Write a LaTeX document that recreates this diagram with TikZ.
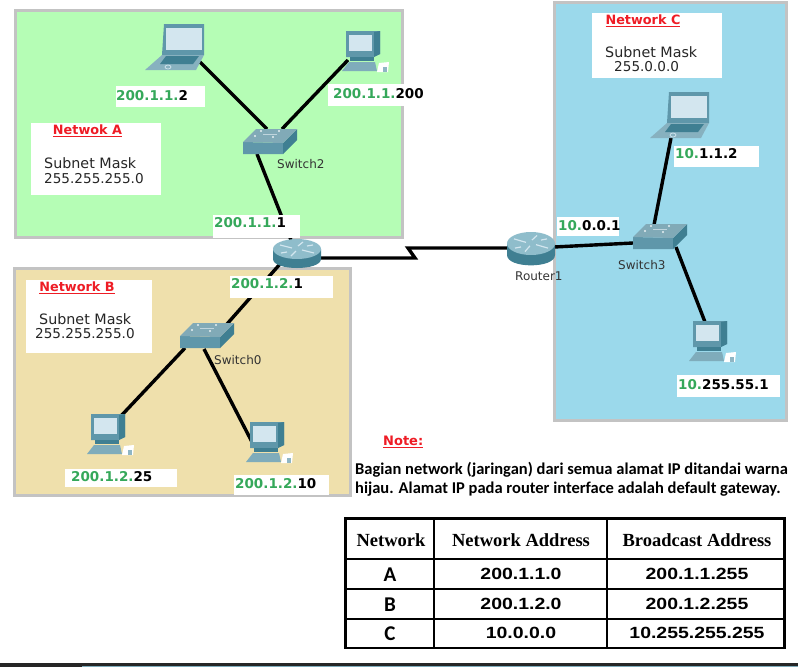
\documentclass[tikz,border=0pt]{standalone}
\usepackage{fontspec}
\setmainfont{DejaVu Sans}
\newfontfamily\notefont{Carlito}
\newfontfamily\headfont{Liberation Serif}
\newfontfamily\tblfont[FakeStretch=1.2]{Liberation Sans}
\definecolor{netA}{HTML}{B5FDB5}
\definecolor{netB}{HTML}{EFE0AC}
\definecolor{netC}{HTML}{9BD9EB}
\definecolor{frame}{HTML}{C3C3C3}
\definecolor{ipgreen}{HTML}{35A85A}
\definecolor{redhead}{HTML}{EE1C25}
\definecolor{icona}{HTML}{5F97AA}
\definecolor{iconb}{HTML}{3F7F92}
\definecolor{iconc}{HTML}{D3E6EF}
\definecolor{icond}{HTML}{8FBDCB}
\newcommand{\gr}[1]{\textcolor{ipgreen}{#1}}
\tikzset{
  zone/.style={line width=3pt,draw=frame},
  wire/.style={line width=3.4pt,black,line join=miter},
  ip/.style={anchor=west,inner sep=0pt,font=\fontsize{13.5}{15}\selectfont\bfseries},
  nettitle/.style={anchor=center,inner sep=0pt,text=redhead,font=\fontsize{12.8}{15}\selectfont\bfseries},
  mask/.style={anchor=west,inner sep=0pt,text=black!85,font=\fontsize{13.6}{15}\selectfont},
  masktitle/.style={anchor=west,inner sep=0pt,text=black!85,font=\fontsize{14.3}{15}\selectfont},
  devlabel/.style={anchor=west,inner sep=0pt,text=black!80,font=\fontsize{12}{14}\selectfont},
  notetext/.style={anchor=west,inner sep=0pt,font=\fontsize{16.5}{18}\notefont\selectfont\bfseries},
  thead/.style={anchor=center,inner sep=0pt,font=\fontsize{18.5}{20}\headfont\selectfont\bfseries},
  tbody/.style={anchor=center,inner sep=0pt,font=\fontsize{16.2}{20}\tblfont\selectfont\bfseries},
  tkey/.style={anchor=center,inner sep=0pt,font=\fontsize{21}{22}\notefont\selectfont\bfseries},
  tblouter/.style={line width=2.4pt,black},
  tblinner/.style={line width=1.5pt,black},
  laptop/.pic={
    \fill[icona] (19,0) -- (59,0) -- (59,31) -- (17,31) -- cycle;
    \fill[iconc] (21,4) rectangle (57,26);
    \fill[icona!75] (17,31) -- (59,31) -- (51,46) -- (0,46) -- cycle;
    \fill[iconb] (21,32) -- (54,32) -- (48,40) -- (15,40) -- cycle;
    \draw[iconc,line width=.7pt] (23,43) ellipse [x radius=3,y radius=2];
  },
  desktop/.pic={
    \fill[icona] (4,0) -- (38,0) -- (38,23) -- (31,26) -- (4,26) -- cycle;
    \fill[iconb] (32,1) -- (38,0) -- (38,23) -- (32,26) -- cycle;
    \fill[iconc] (7,4) rectangle (30,20);
    \fill[iconb] (8,26) rectangle (32,30);
    \fill[icona!80] (7,31) -- (33,31) -- (35,40) -- (0,40) -- cycle;
    \fill[white] (37,32) -- (47,31) -- (46,41) -- (35,41) -- cycle;
    \fill[icona!70] (41,36) rectangle (45,41);
  },
  switchbox/.pic={
    \fill[icona] (0,14) -- (40,15) -- (40,26) -- (0,26) -- cycle;
    \fill[iconb] (40,15) -- (54,1) -- (54,12) -- (40,26) -- cycle;
    \fill[icond!90!black] (0,14) -- (13,1) -- (54,1) -- (40,15) -- cycle;
    \foreach \p in {(12,8),(18,3),(36,3),(30,9)} \fill[white!85!icona] \p circle [radius=1.1];
    \draw[white!60!icona,line width=.6pt] (20,6) -- (34,6);
  },
  routerbody/.pic={
    \shade[left color=iconb,middle color=iconc!90!white,right color=iconb]
      (0,10) -- (0,20) .. controls (0,32) and (48,32) .. (48,20) -- (48,10) -- cycle;
    \fill[icond] (24,10) ellipse [x radius=24,y radius=10];
    \draw[iconc,line width=1.2pt] (7,6) -- (19,9) (41,14) -- (29,11)
      (30,3) -- (25,7) (18,17) -- (23,12) (8,14) -- (14,13) (40,6) -- (34,7);
  }
}
\begin{document}
\begin{tikzpicture}[x=1pt,y=-1pt]
\useasboundingbox (0,0) rectangle (798,667);
% zones
\filldraw[zone,fill=netA] (15.5,10.5) rectangle (402,237);
\filldraw[zone,fill=netB] (14.5,268.5) rectangle (350,495.5);
\filldraw[zone,fill=netC] (554.5,2.5) rectangle (786,420);
% bottom strip
\fill[black!85] (0,663) rectangle (798,667);
\fill[icona!80] (82,665.6) rectangle (798,667);
% port coordinates
\coordinate (lapAp) at (196,58);
\coordinate (pcAp) at (348,60);
\coordinate (swAa) at (267,129);
\coordinate (swAb) at (282,129);
\coordinate (swAc) at (257,154);
\coordinate (rtAn) at (291,240);
\coordinate (rtAw) at (321,258);
\coordinate (rtAs) at (280,264);
\coordinate (swBn) at (227,324);
\coordinate (swBw) at (185,348);
\coordinate (swBs) at (204,349);
\coordinate (pcBa) at (120,417);
\coordinate (pcBb) at (252,442);
\coordinate (rtBw) at (507,248);
\coordinate (rtBe) at (554,247);
\coordinate (zigA) at (415,258);
\coordinate (zigB) at (408,248);
\coordinate (swCw) at (633,243);
\coordinate (swCn) at (654,225);
\coordinate (swCs) at (676,247);
\coordinate (lapCp) at (671,138);
\coordinate (pcCp) at (705,322);
% connectors
\draw[wire] (lapAp) -- (swAa);
\draw[wire] (pcAp) -- (swAb);
\draw[wire] (swAc) -- (rtAn);
\draw[wire] (rtAs) -- (swBn);
\draw[wire] (swBw) -- (pcBa);
\draw[wire] (swBs) -- (pcBb);
\draw[wire] (rtAw) -- (zigA) -- (zigB) -- (rtBw);
\draw[wire] (rtBe) -- (swCw);
\draw[wire] (swCn) -- (lapCp);
\draw[wire] (swCs) -- (pcCp);
% devices
\pic at (145,24) {laptop};
\pic at (342,31) {desktop};
\pic at (243,128) {switchbox};
\pic at (273,239) {routerbody};
\pic at (180,322) {switchbox};
\pic at (87,414) {desktop};
\pic at (246,422) {desktop};
\pic[yscale=1.15] at (507,232) {routerbody};
\pic at (633,223) {switchbox};
\pic at (650,92) {laptop};
\pic at (689,321) {desktop};
% white boxes
\fill[white] (31,123) rectangle (161,195);
\fill[white] (116,86) rectangle (205,107);
\fill[white] (328,84) rectangle (430,106);
\fill[white] (213,215) rectangle (300,238);
\fill[white] (26,280) rectangle (152,353);
\fill[white] (230,276) rectangle (333,298);
\fill[white] (65,469) rectangle (177,487);
\fill[white] (234,475) rectangle (329,495);
\fill[white] (592,13) rectangle (722,78);
\fill[white] (674,146) rectangle (759,167);
\fill[white] (677,375) rectangle (780,397);
\fill[white] (557,217) rectangle (619,236);
% labels
\node[nettitle] (titleA) at (87.5,131) {\underline{Netwok A}};
\node[masktitle] (maskA1) at (44,163) {Subnet Mask};
\node[mask] (maskA2) at (44,179) {255.255.255.0};
\node[nettitle] (titleB) at (77,288) {\underline{Network B}};
\node[masktitle] (maskB1) at (39,319) {Subnet Mask};
\node[mask] (maskB2) at (35,334) {255.255.255.0};
\node[nettitle] (titleC) at (643,21) {\underline{Network C}};
\node[masktitle] (maskC1) at (605,52) {Subnet Mask};
\node[mask] (maskC2) at (614,67) {255.0.0.0};
\node[ip] (ipA1) at (116,96) {\gr{200.1.1.}2};
\node[ip] (ipA2) at (333,94) {\gr{200.1.1.}200};
\node[ip] (ipA3) at (214,223) {\gr{200.1.1.}1};
\node[ip] (ipB1) at (231,284) {\gr{200.1.2.}1};
\node[ip] (ipB2) at (71,477) {\gr{200.1.2.}25};
\node[ip] (ipB3) at (235,484) {\gr{200.1.2.}10};
\node[ip] (ipC1) at (558,226) {\gr{10.}0.0.1};
\node[ip] (ipC2) at (675,154) {\gr{10.}1.1.2};
\node[ip] (ipC3) at (678,385) {\gr{10.}255.55.1};
\node[devlabel] (sw2lbl) at (277,164) {Switch2};
\node[devlabel] (sw0lbl) at (214,360) {Switch0};
\node[devlabel] (sw3lbl) at (618,265) {Switch3};
\node[devlabel] (r1lbl) at (515,276) {Router1};
% note
\node[anchor=west,inner sep=0pt,text=redhead,font=\fontsize{13}{15}\selectfont\bfseries] (notehd) at (383,442) {\underline{Note:}};
\node[notetext] (note1) at (355,470) {Bagian network (jaringan) dari semua alamat IP ditandai warna};
\node[notetext] (note2) at (355,489) {hijau. Alamat IP pada router interface adalah default gateway.};
% table
\draw[tblouter] (345.5,518.5) rectangle (784.5,648);
\draw[tblinner] (345,559) -- (785,559) (345,589) -- (785,589) (345,619) -- (785,619)
  (434,518) -- (434,648) (607,518) -- (607,648);
\node[thead] (h1) at (391,540) {Network};
\node[thead] (h2) at (521,540) {Network Address};
\node[thead] (h3) at (697,540) {Broadcast Address};
\node[tkey] (k1) at (390,575) {A};
\node[tkey] (k2) at (390,605) {B};
\node[tkey] (k3) at (390,634) {C};
\node[tbody] (a1) at (521,574) {200.1.1.0};
\node[tbody] (a2) at (521,604) {200.1.2.0};
\node[tbody] (a3) at (521,633) {10.0.0.0};
\node[tbody] (b1) at (697,574) {200.1.1.255};
\node[tbody] (b2) at (697,604) {200.1.2.255};
\node[tbody] (b3) at (697,633) {10.255.255.255};
\end{tikzpicture}
\end{document}
